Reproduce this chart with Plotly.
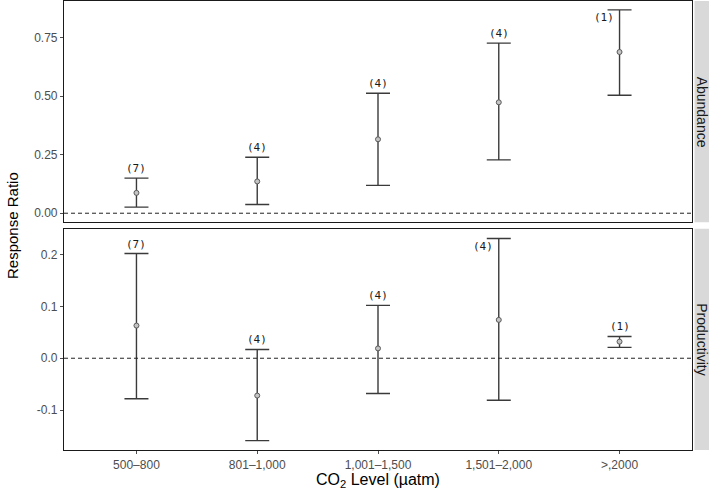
import plotly.graph_objects as go
from plotly.subplots import make_subplots

categories = ['500\u2013800', '801\u20131,000', '1,001\u20131,500', '1,501\u20132,000', '>,2000']
n_studies = [7, 4, 4, 4, 1]

abundance_mean = [0.087, 0.136, 0.316, 0.474, 0.689]
abundance_lo = [0.026, 0.037, 0.119, 0.228, 0.504]
abundance_hi = [0.150, 0.239, 0.513, 0.727, 0.869]

productivity_mean = [0.063, -0.072, 0.019, 0.074, 0.032]
productivity_lo = [-0.078, -0.159, -0.068, -0.081, 0.021]
productivity_hi = [0.202, 0.017, 0.102, 0.231, 0.042]

abundance_ticks = [0.0, 0.25, 0.5, 0.75]
abundance_ticktext = ['0.00', '0.25', '0.50', '0.75']
productivity_ticks = [-0.1, 0.0, 0.1, 0.2]
productivity_ticktext = ['-0.1', '0.0', '0.1', '0.2']

panels = [
    ('Abundance', abundance_mean, abundance_lo, abundance_hi, [-0.039, 0.907],
     abundance_ticks, abundance_ticktext),
    ('Productivity', productivity_mean, productivity_lo, productivity_hi, [-0.177, 0.25],
     productivity_ticks, productivity_ticktext),
]

fig = make_subplots(rows=2, cols=1, shared_xaxes=True, vertical_spacing=0.014)

line_col = '#3a3a3a'
tick_font = dict(family='Liberation Sans, Arial, sans-serif', size=12, color='#4d4d4d')
label_font = dict(family='DejaVu Sans Mono, Liberation Mono, monospace', size=11, color='#1a1a1a')
panel_px = [221, 222]

for row, (name, mean, lo, hi, yr, tv, tt) in enumerate(panels, 1):
    xs = list(range(len(categories)))
    fig.add_trace(go.Scatter(
        x=xs, y=mean, mode='markers', showlegend=False,
        marker=dict(symbol='circle', size=5, color='#c4c4c4',
                    line=dict(color='#5a5a5a', width=1)),
        error_y=dict(type='data', symmetric=False,
                     array=[h - m for h, m in zip(hi, mean)],
                     arrayminus=[m - l for m, l in zip(mean, lo)],
                     color=line_col, thickness=1.4, width=12),
    ), row=row, col=1)

    # zero reference line
    fig.add_trace(go.Scatter(
        x=[-0.6, 4.6], y=[0, 0], mode='lines', showlegend=False, hoverinfo='skip',
        line=dict(color='#222222', width=1, dash='4px,3px'),
    ), row=row, col=1)

    # sample size labels (moved beside the bar when it reaches the panel top)
    px_per_unit = panel_px[row - 1] / (yr[1] - yr[0])
    axref = 'x' if row == 1 else 'x2'
    ayref = 'y' if row == 1 else 'y2'
    for i, n in enumerate(n_studies):
        room = (yr[1] - hi[i]) * px_per_unit
        if room < 18:
            fig.add_annotation(x=i, y=hi[i], xref=axref, yref=ayref, text=f'({n})',
                               showarrow=False, xanchor='right', yanchor='middle',
                               xshift=-4, yshift=-8, font=label_font)
        else:
            fig.add_annotation(x=i, y=hi[i], xref=axref, yref=ayref, text=f'({n})',
                               showarrow=False, xanchor='center', yanchor='bottom',
                               yshift=1, font=label_font)

    fig.update_yaxes(range=yr, tickvals=tv, ticktext=tt, ticks='outside', ticklen=3,
                     tickcolor='#4d4d4d', tickfont=tick_font, showgrid=False, zeroline=False,
                     showline=True, linecolor='#1a1a1a', linewidth=1.2, mirror=True,
                     row=row, col=1)

fig.update_xaxes(range=[-0.6, 4.6], tickvals=list(range(len(categories))), ticktext=categories,
                 showgrid=False, zeroline=False, showline=True, linecolor='#1a1a1a',
                 linewidth=1.2, mirror=True, tickfont=tick_font)
fig.update_xaxes(ticks='outside', ticklen=3, tickcolor='#4d4d4d', row=2, col=1)
fig.update_xaxes(ticks='', showticklabels=False, row=1, col=1)

# facet strips on the right
strip_font = dict(family='Liberation Sans, Arial, sans-serif', size=14, color='#1a1a1a')
for dom, name in [(fig.layout.yaxis.domain, 'Abundance'), (fig.layout.yaxis2.domain, 'Productivity')]:
    fig.add_shape(type='rect', xref='paper', yref='paper', x0=1.004, x1=1.04,
                  y0=dom[0], y1=dom[1], fillcolor='#d9d9d9', line=dict(width=0), layer='above')
    fig.add_annotation(xref='paper', yref='paper', x=1.016, y=(dom[0] + dom[1]) / 2, text=name,
                       textangle=90, showarrow=False, font=strip_font,
                       xanchor='center', yanchor='middle')

title_font = dict(family='Liberation Sans, Arial, sans-serif', size=15, color='#000000')
fig.add_annotation(xref='paper', yref='paper', x=-0.082, y=0.5, text='Response Ratio',
                   textangle=-90, showarrow=False, font=title_font, xanchor='center')
fig.add_annotation(xref='paper', yref='paper', x=0.5, y=-0.067,
                   text='CO<sub>2</sub> Level (\u00b5atm)', showarrow=False,
                   font=dict(family='Liberation Sans, Arial, sans-serif', size=16, color='#000000'),
                   yanchor='middle')

fig.update_layout(
    width=709, height=495,
    margin=dict(l=64, r=17, t=1, b=45, autoexpand=False),
    plot_bgcolor='white', paper_bgcolor='white',
    showlegend=False,
)

fig.write_html("out.html", config={'displayModeBar': False},
               post_script="document.body.style.margin='0';")
